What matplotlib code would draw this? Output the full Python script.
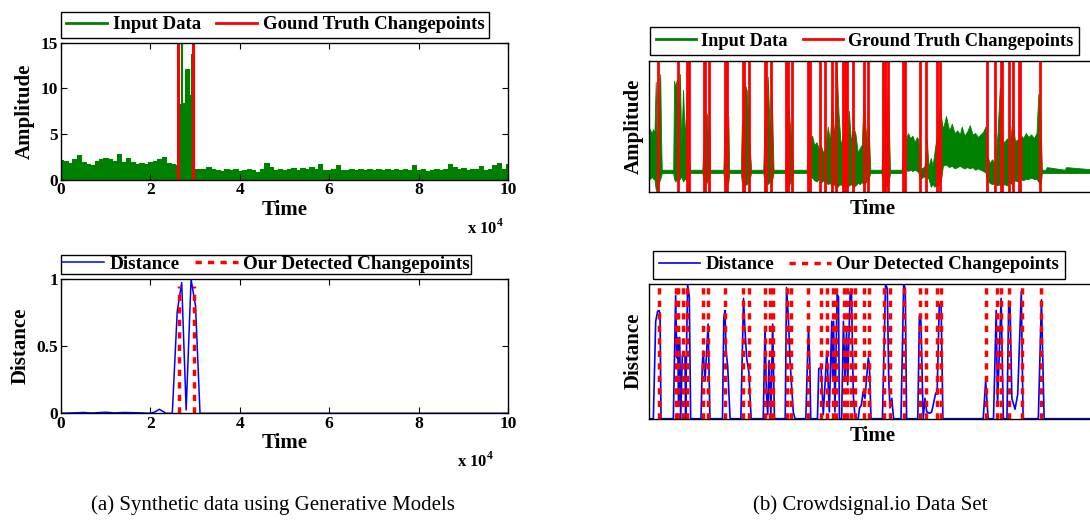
import matplotlib
matplotlib.use('Agg')
import matplotlib.pyplot as plt
from matplotlib.lines import Line2D

W, H = 1090, 523

plt.rcParams['font.family'] = ['Liberation Serif', 'DejaVu Serif']
plt.rcParams['font.weight'] = 'bold'
plt.rcParams['axes.labelweight'] = 'bold'
plt.rcParams['mathtext.fontset'] = 'custom'
plt.rcParams['mathtext.rm'] = 'Liberation Serif'
plt.rcParams['mathtext.bf'] = 'Liberation Serif:bold'
plt.rcParams['xtick.direction'] = 'in'
plt.rcParams['ytick.direction'] = 'in'
plt.rcParams['xtick.top'] = True
plt.rcParams['ytick.right'] = True
plt.rcParams['lines.scale_dashes'] = False

GREEN = '#008000'
RED = '#ff0000'
BLUE = '#0000ff'

# ---- (a) synthetic data, time in units of 1e4 ----
amp_t = [0.0, 0.1, 0.2, 0.3, 0.4, 0.5, 0.6, 0.7, 0.8, 0.9, 1.0, 1.1, 1.2, 1.3, 1.4,
         1.5, 1.6, 1.7, 1.8, 1.9, 2.0, 2.1, 2.2, 2.3, 2.4, 2.5, 2.6,
         2.64, 2.69, 2.70, 2.71, 2.76, 2.80, 2.84, 2.88, 2.92, 2.95, 2.98,
         3.0, 3.1, 3.2, 3.3, 3.4, 3.5, 3.6, 3.7, 3.8, 3.9, 4.0, 4.1, 4.2, 4.3, 4.4,
         4.5, 4.6, 4.7, 4.8, 4.9, 5.0, 5.1, 5.2, 5.3, 5.4, 5.5, 5.6, 5.7, 5.8, 5.9,
         6.0, 6.1, 6.2, 6.3, 6.4, 6.5, 6.6, 6.7, 6.8, 6.9, 7.0, 7.1, 7.2, 7.3, 7.4,
         7.5, 7.6, 7.7, 7.8, 7.9, 8.0, 8.1, 8.2, 8.3, 8.4, 8.5, 8.6, 8.7, 8.8, 8.9,
         9.0, 9.1, 9.2, 9.3, 9.4, 9.5, 9.6, 9.7, 9.8, 9.9, 10.0]
amp_v = [2.1, 2.0, 1.8, 2.2, 2.7, 1.9, 1.7, 1.6, 2.0, 2.2, 2.3, 2.2, 2.0, 2.8, 1.9,
         2.3, 1.9, 1.7, 1.8, 1.7, 1.9, 2.0, 2.2, 2.5, 1.8, 1.7, 1.6,
         8.3, 8.3, 15.0, 8.3, 8.4, 12.1, 12.1, 9.3, 13.7, 13.7, 1.1,
         1.2, 1.1, 1.2, 1.4, 1.1, 1.0, 0.9, 1.1, 1.0, 1.1, 0.9, 1.0, 1.2, 1.0, 0.8,
         1.1, 1.8, 1.4, 1.0, 1.1, 1.0, 1.1, 1.3, 1.0, 1.3, 1.1, 1.4, 1.2, 1.7, 1.0,
         1.0, 1.1, 1.6, 1.0, 1.0, 1.1, 1.0, 1.1, 1.0, 1.2, 1.0, 1.1, 1.0, 1.1, 1.0,
         1.2, 1.0, 1.1, 1.0, 1.6, 1.0, 1.1, 0.9, 1.0, 1.1, 1.0, 1.1, 1.7, 1.4, 1.2,
         1.3, 1.0, 1.2, 1.1, 1.5, 1.0, 1.2, 1.6, 1.8, 1.1, 1.7]
truth_a = [2.62, 2.96]

dist_a_t = [0.0, 0.3, 0.5, 0.7, 1.0, 1.2, 1.4, 1.7, 2.0, 2.1, 2.2, 2.35, 2.49,
            2.60, 2.70, 2.80, 2.91, 3.01, 3.11, 5.0, 7.5, 10.0]
dist_a_v = [0.0, 0.003, 0.006, 0.002, 0.008, 0.003, 0.006, 0.004, 0.0, 0.01, 0.03, 0.0, 0.0,
            0.76, 0.975, 0.025, 1.0, 0.8, 0.0, 0.0, 0.0, 0.0]
detected_a = [2.645, 2.98]

# ---- (b) Crowdsignal.io, time as percent of the shown window ----
green_u = [0.0, 0.3, 0.6, 0.9, 1.2, 1.5, 1.7, 2.0, 2.3, 2.5, 2.7, 2.85,
           5.4, 5.6, 5.9, 6.2, 6.5, 6.9, 7.2, 7.6, 8.0, 8.4, 8.8, 9.2,
           11.9, 12.3, 12.9, 13.2, 13.4, 13.6,
           16.6, 16.96, 17.3, 17.7, 17.9,
           20.5, 20.7, 21.1, 21.4, 21.8, 22.3, 22.8,
           25.5, 25.8, 26.2, 26.5, 27.0, 27.4, 27.8,
           30.4, 30.8, 31.1, 31.6, 32.2,
           35.2, 35.6, 35.9, 36.4, 36.9, 37.4, 37.9, 38.4, 38.9, 39.4, 39.9, 40.4,
           40.8, 41.3, 41.9, 42.3, 42.8, 43.3, 43.75, 44.2, 44.6, 45.1, 45.6, 46.1,
           46.6, 47.1, 47.5, 47.9, 48.3, 48.7, 49.0, 49.4,
           51.9, 52.3, 52.7, 53.0, 53.3, 53.8,
           56.4, 56.8, 57.3, 57.8, 58.3, 58.8, 59.3, 59.8,
           60.1, 60.5, 61.0, 61.5, 62.0, 62.4, 62.9, 63.3, 63.7, 64.3, 64.9, 65.3,
           65.6, 66.3, 67.0, 67.6, 68.2, 68.8, 69.4, 69.8, 70.4, 71.0, 71.6, 72.2,
           72.8, 73.4, 74.0, 74.6, 75.1,
           75.4, 76.0, 76.6, 77.2, 77.8, 78.3, 78.8, 79.3, 79.9, 80.5, 81.1, 81.7,
           82.3, 82.9, 83.5, 84.1, 84.7, 85.3, 85.9, 86.5, 86.9, 87.4, 87.7,
           88.5, 88.8, 92.8, 93.1, 100.0]
green_hi = [0.49, 0.47, 0.45, 0.48, 0.44, 0.84, 0.40, 0.45, 0.70, 0.90, 0.40, 0.17,
            0.17, 0.85, 0.80, 0.86, 0.45, 0.90, 0.35, 0.78, 0.40, 0.76, 0.30, 0.17,
            0.17, 0.45, 0.60, 0.35, 0.63, 0.17,
            0.17, 0.66, 0.40, 0.58, 0.17,
            0.17, 0.50, 0.60, 0.82, 0.78, 0.45, 0.17,
            0.17, 0.56, 0.50, 0.88, 0.40, 0.75, 0.17,
            0.17, 0.50, 0.66, 0.45, 0.17,
            0.17, 0.46, 0.40, 0.43, 0.36, 0.38, 0.33, 0.35, 0.30, 0.34, 0.50, 0.38,
            0.72, 0.40, 0.95, 0.60, 0.35, 0.45, 0.65, 0.40, 0.62, 0.38, 0.50, 0.44,
            0.30, 0.34, 0.36, 0.75, 0.50, 0.36, 0.52, 0.17,
            0.17, 0.50, 0.82, 0.45, 0.83, 0.17,
            0.17, 0.44, 0.40, 0.45, 0.41, 0.43, 0.38, 0.42,
            0.40, 0.19, 0.18, 0.20, 0.41, 0.19, 0.26, 0.20, 0.30, 0.45, 0.65, 0.55,
            0.48, 0.58, 0.47, 0.52, 0.45, 0.47, 0.44, 0.50, 0.43, 0.46, 0.51, 0.44,
            0.45, 0.42, 0.44, 0.46, 0.50,
            0.30, 0.22, 0.25, 0.21, 0.45, 0.80, 0.40, 0.38, 0.41, 0.36, 0.55, 0.39,
            0.40, 0.44, 0.41, 0.45, 0.42, 0.44, 0.41, 0.45, 0.75, 0.55, 0.17,
            0.17, 0.19, 0.17, 0.19, 0.17]
green_lo = [0.12, 0.10, 0.12, 0.10, 0.10, 0.02, 0.00, 0.05, 0.08, 0.10, 0.12, 0.145,
            0.145, 0.10, 0.08, 0.10, 0.09, 0.10, 0.12, 0.08, 0.10, 0.09, 0.12, 0.145,
            0.145, 0.08, 0.07, 0.10, 0.08, 0.145,
            0.145, 0.06, 0.09, 0.07, 0.145,
            0.145, 0.08, 0.06, 0.05, 0.06, 0.08, 0.145,
            0.145, 0.08, 0.07, 0.06, 0.08, 0.08, 0.145,
            0.145, 0.06, 0.04, 0.08, 0.145,
            0.145, 0.10, 0.12, 0.11, 0.09, 0.08, 0.10, 0.07, 0.09, 0.08, 0.06, 0.07,
            0.04, 0.06, 0.03, 0.05, 0.06, 0.04, 0.05, 0.03, 0.05, 0.06, 0.04, 0.05,
            0.07, 0.06, 0.08, 0.05, 0.07, 0.09, 0.10, 0.145,
            0.145, 0.05, 0.02, 0.06, 0.03, 0.145,
            0.145, 0.16, 0.17, 0.16, 0.17, 0.16, 0.17, 0.16,
            0.15, 0.10, 0.11, 0.12, 0.12, 0.10, 0.04, 0.06, 0.04, 0.06, 0.05, 0.12,
            0.20, 0.21, 0.19, 0.20, 0.18, 0.19, 0.20, 0.19, 0.18, 0.19, 0.18, 0.19,
            0.17, 0.18, 0.17, 0.16, 0.15,
            0.10, 0.07, 0.06, 0.07, 0.05, 0.06, 0.05, 0.06, 0.05, 0.07, 0.06, 0.09,
            0.08, 0.10, 0.09, 0.10, 0.10, 0.11, 0.10, 0.10, 0.08, 0.05, 0.145,
            0.145, 0.145, 0.145, 0.145, 0.145]
truth_b = [2.08, 6.54, 8.42, 8.93, 12.21, 12.5, 13.39, 16.96, 17.48, 20.92, 21.21,
           22.25, 25.83, 26.18, 27.23, 30.65, 30.96, 31.92, 35.56, 35.87, 38.1,
           39.29, 40.92, 41.81, 43.3, 43.75, 44.13, 45.6, 47.92, 48.95, 52.3, 52.68,
           53.28, 56.76, 57.14, 60.56, 61.9, 64.29, 64.96, 75.45, 77.3, 78.57, 78.86,
           80.42, 81.18, 82.59, 82.88, 87.34]

dist_b_u = [0.0, 0.97, 1.49, 1.93, 2.23, 2.46, 2.68,
            5.43, 5.95, 6.2, 6.4, 6.6, 6.85, 7.07, 7.44, 7.81, 8.04, 8.18, 8.41, 8.63, 9.0, 9.3,
            11.6, 11.9, 12.1, 12.5, 13.2, 13.6,
            16.4, 16.7, 16.96, 17.2, 17.56, 18.1,
            20.5, 21.1, 21.4, 21.8, 22.3, 22.8,
            25.5, 25.9, 26.2, 26.5, 26.8, 27.2, 27.6, 28.0,
            30.4, 30.7, 31.1, 31.5, 32.2, 32.6,
            35.0, 35.6, 35.9, 36.1,
            37.6, 37.9, 38.4, 38.9, 39.7, 40.25, 40.8, 41.0, 41.2, 41.5, 42.0, 42.3, 42.5,
            43.0, 43.4, 43.75, 44.1, 44.35, 44.9, 45.2, 45.6, 46.0, 46.7, 47.0, 47.4,
            47.8, 48.2, 48.95, 49.2, 49.55,
            52.1, 52.8, 53.2, 53.5, 53.8, 54.2, 54.6,
            56.25, 56.85, 57.2, 57.5,
            60.0, 60.35, 60.7, 61.2, 61.6, 62.0, 62.6, 63.1, 63.6, 64.0, 64.3, 64.8, 65.2, 65.6,
            74.6, 75.15, 75.7,
            76.9, 77.5, 77.8, 78.6, 79.1,
            79.9, 80.3, 80.6, 81.0, 81.7, 82.3, 83.1, 83.5,
            86.9, 87.6, 88.2, 100.0]
dist_b_v = [0.0, 0.0, 0.72, 0.795, 0.80, 0.78, 0.0,
            0.0, 0.91, 0.45, 0.60, 0.10, 0.60, 0.0, 0.47, 0.47, 0.45, 0.0, 0.60, 0.99, 0.90, 0.0,
            0.0, 0.40, 0.50, 0.28, 0.70, 0.0,
            0.0, 0.75, 0.80, 0.50, 0.39, 0.0,
            0.0, 0.89, 0.67, 0.45, 0.34, 0.0,
            0.0, 0.67, 0.20, 0.03, 0.43, 0.03, 0.70, 0.0,
            0.0, 0.97, 0.75, 0.42, 0.05, 0.0,
            0.0, 0.68, 0.40, 0.0,
            0.0, 0.37, 0.38, 0.03, 0.50, 0.05, 0.72, 0.30, 0.72, 0.05, 0.92, 0.90, 0.0,
            0.0, 0.72, 0.30, 0.65, 0.25, 0.94, 0.93, 0.18, 0.0, 0.0, 0.08, 0.10,
            0.20, 0.15, 0.45, 0.40, 0.0,
            0.0, 1.0, 0.96, 0.30, 0.08, 0.15, 0.0,
            0.0, 1.0, 0.96, 0.0,
            0.0, 0.76, 0.72, 0.0, 0.15, 0.05, 0.04, 0.05, 0.13, 0.19, 0.18, 0.84, 0.86, 0.0,
            0.0, 0.28, 0.0,
            0.0, 0.80, 0.10, 0.89, 0.0,
            0.0, 0.87, 0.82, 0.15, 0.07, 0.18, 0.94, 0.0,
            0.0, 0.88, 0.0, 0.0]
detected_b = [2.23, 6.03, 6.54, 7.59, 8.59, 12.12, 13.24, 16.96, 21.05, 22.39, 25.89,
              27.01, 27.75, 30.74, 31.76, 35.56, 38.33, 39.67, 41.07, 41.74, 43.46,
              44.13, 44.98, 45.98, 47.99, 49.0, 52.46, 53.79, 56.92, 60.38, 61.79,
              64.22, 65.18, 75.18, 77.61, 78.5, 80.4, 83.15, 87.61]

tick_size = 12.5
label_size = 15
dash = (0, (4.5, 4.5))


def make_legend(ax, handles, labels, x, y, pad=0.2, size=13.5):
    leg = ax.legend(handles, labels, loc='lower left', bbox_to_anchor=(x / W, 1 - y / H),
                    bbox_transform=fig.transFigure, ncol=2,
                    prop={'family': 'Liberation Serif', 'weight': 'bold', 'size': size},
                    frameon=True, fancybox=False, edgecolor='black', framealpha=1,
                    borderaxespad=0, borderpad=pad, handlelength=2.2,
                    handletextpad=0.3, columnspacing=0.8)
    leg.get_frame().set_linewidth(1.0)
    return leg


fig = plt.figure(figsize=(W / 100, H / 100), dpi=100)

# (a) top
ax1 = fig.add_axes([61 / W, 1 - 179.5 / H, 447 / W, 137 / H])
ax1.fill_between(amp_t, 0, amp_v, step='mid', color=GREEN, lw=0)
ax1.step(amp_t, amp_v, where='mid', color=GREEN, lw=0.8)
for t in truth_a:
    ax1.axvline(t, color=RED, lw=2.2)
ax1.set_xlim(0, 10)
ax1.set_ylim(0, 15)
ax1.set_xticks([0, 2, 4, 6, 8, 10])
ax1.set_yticks([0, 5, 10, 15])
ax1.tick_params(labelsize=tick_size, length=4, width=0.8, pad=2)
ax1.set_xlabel('Time', fontsize=label_size, labelpad=1)
ax1.set_ylabel('Amplitude', fontsize=label_size, labelpad=4)
make_legend(ax1, [Line2D([], [], color=GREEN, lw=2), Line2D([], [], color=RED, lw=2)],
            ['Input Data', 'Gound Truth Changepoints'], 61, 38, pad=0.25)
fig.text(467 / W, 1 - 234 / H, r'x 10$^{\mathbf{4}}$', fontsize=12, fontweight='bold')

# (a) bottom
ax2 = fig.add_axes([61 / W, 1 - 413.3 / H, 447 / W, 134 / H])
ax2.plot(dist_a_t, dist_a_v, color=BLUE, lw=1.1)
ax2.vlines(detected_a, 0, 0.95, colors=RED, lw=2.5, linestyles=[dash])
ax2.set_xlim(0, 10)
ax2.set_ylim(0, 1)
ax2.set_xticks([0, 2, 4, 6, 8, 10])
ax2.set_yticks([0, 0.5, 1])
ax2.set_yticklabels(['0', '0.5', '1'])
ax2.tick_params(labelsize=tick_size, length=4, width=0.8, pad=2)
ax2.set_xlabel('Time', fontsize=label_size, labelpad=1)
ax2.set_ylabel('Distance', fontsize=label_size, labelpad=4)
make_legend(ax2, [Line2D([], [], color=BLUE, lw=1.1),
                  Line2D([], [], color=RED, lw=2.5, linestyle=dash)],
            ['Distance', 'Our Detected Changepoints'], 61, 274, pad=0.05, size=13.8)
fig.text(457 / W, 1 - 467 / H, r'x 10$^{\mathbf{4}}$', fontsize=12, fontweight='bold')

# (b) top
ax3 = fig.add_axes([649 / W, 1 - 192 / H, 448 / W, 131 / H])
ax3.fill_between(green_u, green_lo, green_hi, color=GREEN, lw=0.6, edgecolor=GREEN)
for u in truth_b:
    ax3.axvline(u, color=RED, lw=2.0)
ax3.set_xlim(0, 100)
ax3.set_ylim(0, 1)
ax3.set_xticks([])
ax3.set_yticks([])
ax3.set_xlabel('Time', fontsize=label_size, labelpad=5)
ax3.set_ylabel('Amplitude', fontsize=label_size, labelpad=4)
make_legend(ax3, [Line2D([], [], color=GREEN, lw=2), Line2D([], [], color=RED, lw=2)],
            ['Input Data', 'Ground Truth Changepoints'], 650, 55, pad=0.3, size=13.2)

# (b) bottom
ax4 = fig.add_axes([649 / W, 1 - 418.7 / H, 448 / W, 135.2 / H])
ax4.plot(dist_b_u, dist_b_v, color=BLUE, lw=1.2)
ax4.vlines(detected_b, 0, 1, colors=RED, lw=2.5, linestyles=[dash])
ax4.set_xlim(0, 100)
ax4.set_ylim(0, 1)
ax4.set_xticks([])
ax4.set_yticks([])
ax4.set_xlabel('Time', fontsize=label_size, labelpad=5)
ax4.set_ylabel('Distance', fontsize=label_size, labelpad=4)
make_legend(ax4, [Line2D([], [], color=BLUE, lw=1.2),
                  Line2D([], [], color=RED, lw=2.5, linestyle=dash)],
            ['Distance', 'Our Detected Changepoints'], 653, 279, pad=0.3, size=13.5)

for ax in (ax1, ax2, ax3, ax4):
    for s in ax.spines.values():
        s.set_linewidth(1.0)

fig.text(273 / W, 1 - 505 / H, '(a) Synthetic data using Generative Models',
         ha='center', va='center', fontsize=15, fontweight='normal')
fig.text(870 / W, 1 - 505 / H, '(b) Crowdsignal.io Data Set',
         ha='center', va='center', fontsize=15, fontweight='normal')

fig.savefig('out.png', dpi=100)
